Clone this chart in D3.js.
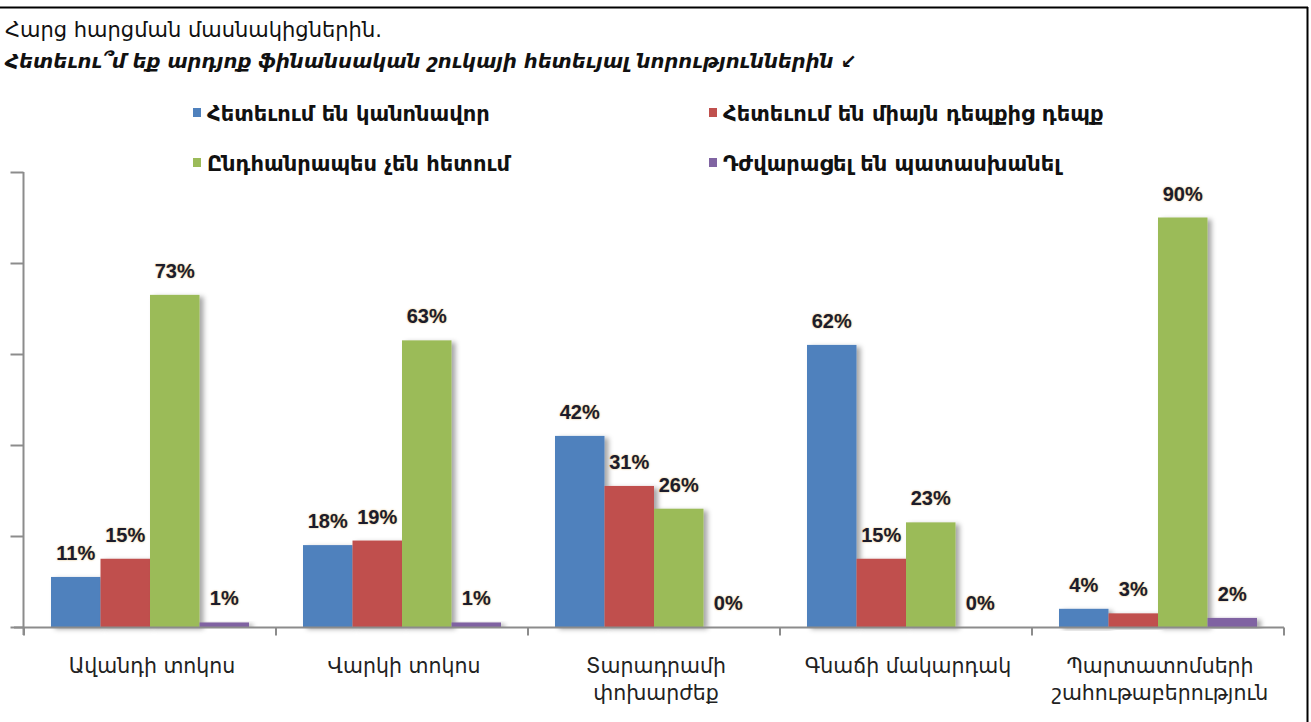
<!DOCTYPE html>
<html>
<head>
<meta charset="utf-8">
<script src="https://cdn.jsdelivr.net/npm/d3@7"></script>
<style>
  body { margin: 0; background: #fff; }
  svg text { font-family: "DejaVu Sans", sans-serif; }
  .val { font-family: "Liberation Sans", Arial, sans-serif !important; font-weight: bold; font-size: 20px; fill: #1c1c2c;
         text-shadow: 0 0 2px rgba(215,160,60,0.75); }
</style>
</head>
<body>
<svg width="1311" height="722"></svg>
<script>
// data
var categories = [["Ավանդի տոկոս"], ["Վարկի տոկոս"], ["Տարադրամի", "փոխարժեք"],
                  ["Գնաճի մակարդակ"], ["Պարտատոմսերի", "շահութաբերություն"]];
var seriesNames = ["Հետեւում են կանոնավոր", "Հետեւում են միայն  դեպքից դեպք",
                   "Ընդհանրապես չեն հետում", "Դժվարացել են պատասխանել"];
var regular = [11, 18, 42, 62, 4];
var sometimes = [15, 19, 31, 15, 3];
var never = [73, 63, 26, 23, 90];
var hard = [1, 1, 0, 0, 2];
var yTicks = [0, 20, 40, 60, 80, 100];
var colors = ["#4f81bd", "#c0504d", "#9bbb59", "#8064a2"];

var svg = d3.select("svg"),
  width = +svg.attr("width"),
  height = +svg.attr("height");

var series = [regular, sometimes, never, hard];

// frame lines
svg.append("line").attr("x1", 0).attr("x2", 1308).attr("y1", 7.5).attr("y2", 7.5)
  .attr("stroke", "#000").attr("stroke-width", 2);
svg.append("line").attr("x1", 1307.5).attr("x2", 1307.5).attr("y1", 7).attr("y2", height)
  .attr("stroke", "#000").attr("stroke-width", 2);

// header
svg.append("text").attr("x", 5).attr("y", 37).text("Հարց հարցման մասնակիցներին.")
  .style("font-size", "21px").attr("fill", "#111");
svg.append("text").attr("x", 5).attr("y", 68)
  .text("Հետեւու՞մ եք արդյոք ֆինանսական շուկայի հետեւյալ նորություններին  ↙")
  .style("font-size", "19.5px").style("font-style", "italic").style("font-weight", "bold").attr("fill", "#111");

// shadow filter
var defs = svg.append("defs");
defs.append("filter").attr("id", "shadow").attr("x", "-20%").attr("y", "-20%").attr("width", "160%").attr("height", "140%")
  .append("feDropShadow").attr("dx", 4).attr("dy", 2).attr("stdDeviation", 2.5)
  .attr("flood-color", "#000").attr("flood-opacity", 0.35);

// scales
var x0 = d3.scaleBand().domain(d3.range(categories.length)).range([24, 1284]).padding(0);
var x1 = d3.scaleBand().domain(d3.range(series.length)).range([27, 225]).padding(0);
var y = d3.scaleLinear().domain([0, 100]).range([627, 172]);

// y axis
var yAxis = svg.append("g").attr("transform", "translate(23.5,0)")
  .call(d3.axisLeft(y).tickValues(yTicks).tickSize(13).tickFormat(""));
yAxis.select(".domain").attr("d", "M0," + y(100) + "V635").attr("stroke", "#8c8c8c").attr("stroke-width", 2);
yAxis.selectAll(".tick line").attr("stroke", "#8c8c8c").attr("stroke-width", 2);

// bars
var groups = svg.append("g").selectAll("g")
  .data(categories).enter().append("g")
  .attr("transform", function(d, i) { return "translate(" + x0(i) + ",0)"; });

groups.selectAll("rect")
  .data(function(d, i) { return series.map(function(s, k) { return { k: k, v: s[i] }; }); })
  .enter().append("rect")
  .attr("x", function(d) { return x1(d.k); })
  .attr("y", function(d) { return y(d.v); })
  .attr("width", x1.bandwidth())
  .attr("height", function(d) { return y(0) - y(d.v); })
  .attr("fill", function(d) { return colors[d.k]; })
  .attr("filter", "url(#shadow)");

groups.selectAll("text.val")
  .data(function(d, i) { return series.map(function(s, k) { return { k: k, v: s[i] }; }); })
  .enter().append("text")
  .attr("class", "val")
  .attr("x", function(d) { return x1(d.k) + x1.bandwidth() / 2; })
  .attr("y", function(d) { return y(d.v) - 17; })
  .attr("text-anchor", "middle")
  .text(function(d) { return d.v + "%"; });

// x axis
var xAxis = svg.append("g").attr("transform", "translate(0,627.5)");
xAxis.append("line").attr("x1", 14).attr("x2", 1284).attr("stroke", "#8c8c8c").attr("stroke-width", 2);
xAxis.selectAll("line.tk").data(d3.range(categories.length + 1)).enter().append("line")
  .attr("x1", function(i) { return i < categories.length ? x0(i) : 1284; })
  .attr("x2", function(i) { return i < categories.length ? x0(i) : 1284; })
  .attr("y1", 0).attr("y2", 8).attr("stroke", "#8c8c8c").attr("stroke-width", 2);

var catLabels = svg.append("g").selectAll("text")
  .data(categories).enter().append("text")
  .attr("x", function(d, i) { return x0(i) + x0.bandwidth() / 2 + 2; })
  .attr("y", 673)
  .attr("text-anchor", "middle")
  .style("font-size", "20.5px").attr("fill", "#222");
catLabels.selectAll("tspan").data(function(d) { return d; }).enter().append("tspan")
  .attr("x", function() { return this.parentNode.getAttribute("x"); })
  .attr("dy", function(d, j) { return j === 0 ? 0 : 27; })
  .text(function(d) { return d; });

// legend
var legPos = [[193, 108], [709, 108], [193, 158], [709, 158]];
var leg = svg.append("g").selectAll("g").data(seriesNames).enter().append("g")
  .attr("transform", function(d, i) { return "translate(" + legPos[i][0] + "," + legPos[i][1] + ")"; });
leg.append("rect").attr("width", 8).attr("height", 9).attr("fill", function(d, i) { return colors[i]; });
leg.append("text").attr("x", 14).attr("y", 13).text(function(d) { return d; })
  .style("font-size", "21px").style("font-weight", "bold").attr("fill", "#111");
</script>
</body>
</html>
